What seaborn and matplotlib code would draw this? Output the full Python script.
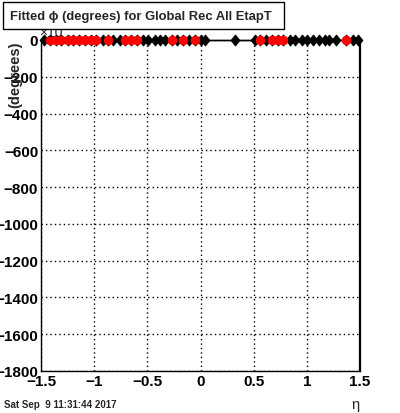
import matplotlib
matplotlib.use("Agg")
import matplotlib.pyplot as plt
import seaborn as sns
import numpy as np
from matplotlib.ticker import MultipleLocator, FixedLocator
from matplotlib.patches import Rectangle

# ---- data ----
eta_all = [-1.47, -1.42, -1.36, -1.31, -1.25, -1.20, -1.14, -1.09, -1.03, -0.98,
           -0.92, -0.87, -0.82, -0.76, -0.71, -0.65, -0.60, -0.54, -0.49, -0.43,
           -0.38, -0.33, -0.27, -0.22, -0.16, -0.11, -0.05, 0.00, 0.04,
           0.32,
           0.51, 0.56, 0.62, 0.67, 0.73, 0.78, 0.84, 0.89, 0.95, 1.00, 1.06,
           1.11, 1.17, 1.21, 1.27, 1.37, 1.43, 1.48]
phi_all = [0.0] * len(eta_all)
eta_red = [-1.42, -1.36, -1.31, -1.25, -1.20, -1.14, -1.09, -1.03, -0.98,
           -0.87, -0.71, -0.65, -0.60, -0.27, -0.16, -0.05,
           0.56, 0.67, 0.73, 0.78, 1.37]
phi_red = [0.0] * len(eta_red)

xticks = [-1.5, -1.0, -0.5, 0.0, 0.5, 1.0, 1.5]
xticklabels = ["\u22121.5", "\u22121", "\u22120.5", "0", "0.5", "1", "1.5"]
yticks = [0, -200, -400, -600, -800, -1000, -1200, -1400, -1600, -1800]
yticklabels = ["0", "\u2212200", "\u2212400", "\u2212600", "\u2212800", "\u22121000",
               "\u22121200", "\u22121400", "\u22121600", "\u22121800"]

sns.set_style("white")
plt.rcParams['font.family'] = ['Liberation Sans', 'DejaVu Sans']

fig = plt.figure(figsize=(4.0, 4.14), dpi=100)
ax = fig.add_axes([41/400, 1 - 372/414, (360-41)/400, (372-41)/414])

diamond = [(0, 1), (0.8, 0), (0, -1), (-0.8, 0), (0, 1)]

sns.lineplot(x=eta_all, y=phi_all, ax=ax, color="black", linewidth=1.0,
             marker=diamond, markersize=8, markeredgecolor="black",
             markerfacecolor="black", markeredgewidth=0.6, clip_on=False,
             zorder=3, sort=True, estimator=None)
sns.scatterplot(x=eta_red, y=phi_red, ax=ax, color="red", s=48, marker="o",
                edgecolor="red", linewidth=0, clip_on=False, zorder=4)

ax.set_xlim(-1.5, 1.5)
ax.set_ylim(-1800, 0)
ax.xaxis.set_major_locator(FixedLocator(xticks))
ax.set_xticklabels(xticklabels)
ax.xaxis.set_minor_locator(MultipleLocator(0.1))
ax.yaxis.set_major_locator(FixedLocator(yticks))
ax.set_yticklabels(yticklabels)
ax.yaxis.set_minor_locator(MultipleLocator(50))

ax.tick_params(axis="both", which="major", direction="in", length=9, width=1,
               labelsize=11, colors="black")
ax.tick_params(axis="both", which="minor", direction="in", length=4.5, width=1)
ax.tick_params(axis="x", which="both", top=False, pad=2)
ax.tick_params(axis="y", which="both", right=False, pad=2)
for lab in ax.get_xticklabels() + ax.get_yticklabels():
    lab.set_fontweight("bold")

ax.grid(True, which="major", color="black", linestyle=(0, (1, 2.2)), linewidth=1.0)
for s in ax.spines.values():
    s.set_color("black")
    s.set_linewidth(1.0)
ax.spines["right"].set_linewidth(1.6)

ax.set_xlabel("")
ax.set_ylabel("")

# y label
fig.text(15/400, 1 - 75/414, "(degrees)", rotation=90, ha="center", va="center",
         fontsize=10.5, fontweight="bold")
# exponent label, partly hidden under title box
fig.text(39/400, 1 - 40/414, "\u00d710", fontsize=10, ha="left", va="bottom", zorder=1)

# title box
fig.patches.append(Rectangle((3/400, 1 - 30/414), (284-3)/400, (30-3)/414,
                             transform=fig.transFigure, facecolor="white",
                             edgecolor="black", linewidth=1.0, zorder=5))
fig.text(10/400, 1 - 17/414, "Fitted \u03d5 (degrees) for Global Rec All EtapT",
         fontsize=9.4, fontweight="bold", ha="left", va="center", zorder=6)

# x label and date
fig.text(355/400, 1 - 405/414, "\u03b7", fontsize=10.5, ha="center", va="center")
fig.text(4/400, 1 - 405/414, "Sat Sep  9 11:31:44 2017", fontsize=7,
         fontweight="bold", ha="left", va="center")

fig.savefig("out.png", dpi=100)
